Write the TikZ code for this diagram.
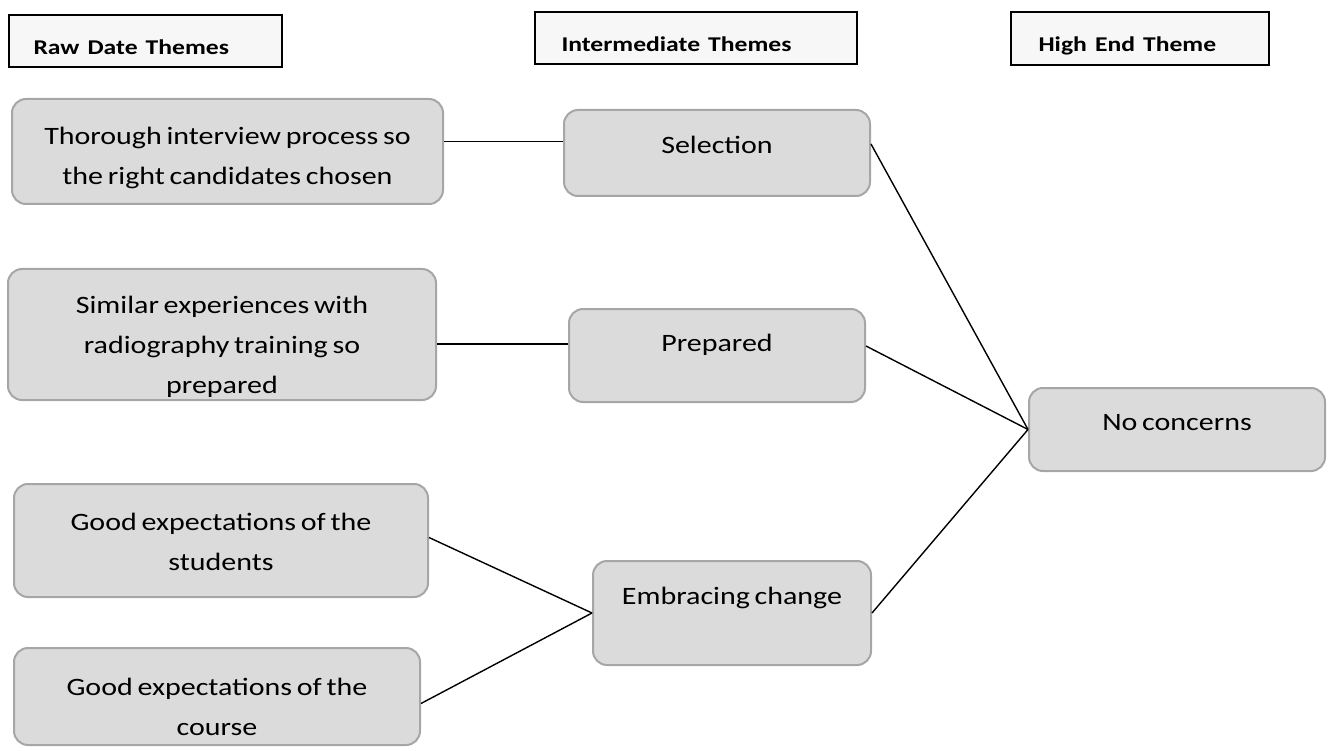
\documentclass[tikz,border=0pt]{standalone}
\usepackage{fontspec}
\setmainfont{Carlito}[FakeStretch = 1.2, WordSpace = 0.7]
\newfontfamily\headfont{Carlito}[FakeStretch = 1.22, WordSpace = 1.4]
\begin{document}
\begin{tikzpicture}[x=1pt, y=-1pt,
	heading/.style = {draw = black, line width = 1.8pt, fill = black!3, inner sep = 0pt},
	headtext/.style = {anchor = base west, font = \headfont\fontsize{21}{24}\selectfont\bfseries},
	theme/.style = {draw = black!35, line width = 2pt, fill = black!14, rounded corners = 14pt, inner sep = 0pt},
	themetext/.style = {align = center, font = \fontsize{25}{40}\selectfont},
	link/.style = {line width = 1.4pt, draw = black}]
	
	\useasboundingbox (0,0) rectangle (1330,751);
	
	%% HEADINGS
	\node [heading, minimum width = 273pt, minimum height = 52pt] (rawhead)   at (145.5,41) {};
	\node [heading, minimum width = 322pt, minimum height = 52pt] (interhead) at (696,38)   {};
	\node [heading, minimum width = 258pt, minimum height = 53pt] (highhead)  at (1140,38.5) {};
	
	\node [headtext] (rawhead-txt)   at (30,55)   {Raw Date Themes};
	\node [headtext] (interhead-txt) at (558,52)  {Intermediate Themes};
	\node [headtext] (highhead-txt)  at (1035,52) {High End Theme};
	
	%% THEME BOXES
	% name / centre / size / text height / text
	\foreach \name/\cx/\cy/\w/\h/\ty/\txt in {
		thor/227.5/151.5/431pt/105pt/157.5/{Thorough interview process so\\the right candidates chosen},
		sim/222/334.5/428pt/131pt/347/{Similar experiences with\\radiography training so\\prepared},
		stud/221/540.5/414pt/113pt/542/{Good expectations of the\\students},
		course/217/696.5/406pt/97pt/707/{Good expectations of the\\course},
		sel/717/153/306pt/86pt/145/{Selection},
		prep/717/355.5/296pt/93pt/345/{Prepared},
		emb/732/613/278pt/104pt/598/{Embracing change},
		nc/1177/429.5/296pt/83pt/423/{No concerns}}
	{
		\node [theme, minimum width = \w, minimum height = \h] (\name) at (\cx,\cy) {};
		\node [themetext] (\name-txt) at (\cx,\ty) {\txt};
	}
	
	%% LINKS
	% Raw -> Intermediate
	\draw [link] ([yshift = 10pt]thor.east) -- ([yshift = 10pt]thor.east -| sel.west);
	\draw [link] ([yshift = -9.5pt]sim.east) -- ([yshift = -9.5pt]sim.east -| prep.west);
	\draw [link] ([yshift = 3pt]stud.east)   -- (emb.west);
	\draw [link] ([yshift = -7pt]course.east) -- (emb.west);
	
	% Intermediate -> High End
	\draw [link] ([yshift = 9pt]sel.east)    -- (nc.west);
	\draw [link] ([yshift = 9.5pt]prep.east) -- (nc.west);
	\draw [link] (emb.east) -- (nc.west);
	
\end{tikzpicture}
\end{document}
